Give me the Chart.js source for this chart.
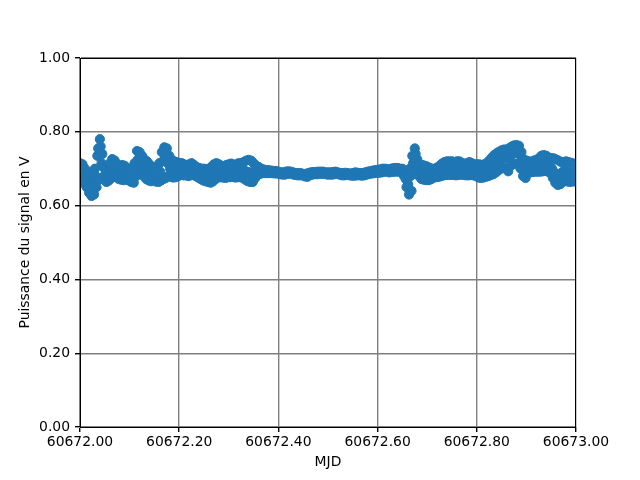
<!DOCTYPE html>
<html>
<head>
<meta charset="utf-8">
<script src="https://cdn.jsdelivr.net/npm/chart.js@4"></script>
<style>
html,body{margin:0;padding:0;background:#fff;}
#wrap{width:640px;height:480px;}
</style>
</head>
<body>
<div id="wrap"><canvas id="c" width="640" height="480"></canvas></div>
<script>
// MJD start and sampling step of each reading series (days)
const mjdStart = 60672.0;
const mjdStep = 0.005;
// Three interleaved reading series (V); series B and C are taken 1/3 and 2/3 of a step later
const readingsA = [
  0.715, 0.712, 0.700, 0.690, 0.685, 0.690, 0.700, 0.735, 0.780, 0.740,
  0.700, 0.705, 0.715, 0.726, 0.722, 0.712, 0.705, 0.710, 0.708, 0.700,
  0.700, 0.695, 0.715, 0.748, 0.745, 0.735, 0.725, 0.720, 0.712, 0.705,
  0.700, 0.705, 0.715, 0.745, 0.758, 0.755, 0.735, 0.724, 0.720, 0.718,
  0.715, 0.715, 0.712, 0.708, 0.712, 0.715, 0.710, 0.705, 0.702, 0.700,
  0.700, 0.698, 0.700, 0.705, 0.712, 0.715, 0.712, 0.708, 0.705, 0.710,
  0.712, 0.714, 0.710, 0.712, 0.715, 0.715, 0.718, 0.722, 0.724, 0.722,
  0.715, 0.708, 0.705, 0.700, 0.698, 0.696, 0.696, 0.695, 0.694, 0.694,
  0.692, 0.690, 0.690, 0.692, 0.693, 0.692, 0.690, 0.688, 0.688, 0.688,
  0.686, 0.686, 0.688, 0.690, 0.691, 0.691, 0.692, 0.692, 0.692, 0.690,
  0.690, 0.690, 0.691, 0.692, 0.690, 0.688, 0.688, 0.689, 0.688, 0.687,
  0.688, 0.690, 0.689, 0.688, 0.688, 0.690, 0.692, 0.693, 0.695, 0.696,
  0.697, 0.698, 0.700, 0.700, 0.698, 0.699, 0.701, 0.702, 0.702, 0.700,
  0.700, 0.695, 0.688, 0.700, 0.735, 0.755, 0.725, 0.712, 0.710, 0.708,
  0.706, 0.702, 0.700, 0.700, 0.703, 0.708, 0.714, 0.718, 0.720, 0.720,
  0.720, 0.718, 0.720, 0.720, 0.716, 0.712, 0.715, 0.718, 0.715, 0.712,
  0.712, 0.712, 0.710, 0.712, 0.715, 0.722, 0.730, 0.737, 0.742, 0.746,
  0.750, 0.752, 0.752, 0.755, 0.760, 0.763, 0.764, 0.762, 0.745, 0.725,
  0.722, 0.720, 0.718, 0.722, 0.724, 0.728, 0.735, 0.737, 0.735, 0.730,
  0.729, 0.728, 0.725, 0.722, 0.718, 0.718, 0.720, 0.718, 0.716, 0.714, 0.712
];
const readingsB = [
  0.690, 0.685, 0.670, 0.660, 0.650, 0.665, 0.680, 0.755, 0.760, 0.705,
  0.685, 0.680, 0.695, 0.700, 0.700, 0.690, 0.688, 0.690, 0.685, 0.683,
  0.680, 0.675, 0.700, 0.725, 0.720, 0.705, 0.695, 0.690, 0.690, 0.685,
  0.685, 0.680, 0.692, 0.720, 0.730, 0.715, 0.700, 0.695, 0.693, 0.690,
  0.700, 0.700, 0.698, 0.696, 0.698, 0.700, 0.697, 0.692, 0.688, 0.685,
  0.682, 0.680, 0.678, 0.682, 0.690, 0.695, 0.692, 0.688, 0.686, 0.690,
  0.692, 0.693, 0.690, 0.692, 0.694, 0.694, 0.695, 0.692, 0.690, 0.688,
  0.695, 0.693, 0.692, 0.692, 0.692, 0.692, 0.691, 0.691, 0.690, 0.690,
  0.688, 0.687, 0.687, 0.689, 0.690, 0.688, 0.686, 0.685, 0.685, 0.685,
  0.683, 0.682, 0.685, 0.687, 0.688, 0.688, 0.689, 0.689, 0.689, 0.687,
  0.687, 0.687, 0.688, 0.689, 0.687, 0.685, 0.685, 0.686, 0.685, 0.684,
  0.685, 0.686, 0.686, 0.685, 0.685, 0.687, 0.689, 0.690, 0.691, 0.692,
  0.693, 0.694, 0.696, 0.696, 0.694, 0.695, 0.697, 0.697, 0.697, 0.695,
  0.690, 0.672, 0.658, 0.680, 0.715, 0.740, 0.700, 0.690, 0.688, 0.686,
  0.686, 0.685, 0.688, 0.690, 0.692, 0.695, 0.698, 0.700, 0.702, 0.700,
  0.700, 0.698, 0.700, 0.700, 0.697, 0.695, 0.696, 0.698, 0.697, 0.695,
  0.694, 0.692, 0.690, 0.694, 0.698, 0.704, 0.710, 0.715, 0.720, 0.725,
  0.728, 0.730, 0.728, 0.735, 0.740, 0.742, 0.745, 0.738, 0.715, 0.700,
  0.705, 0.703, 0.702, 0.705, 0.706, 0.708, 0.712, 0.714, 0.712, 0.708,
  0.700, 0.690, 0.680, 0.685, 0.690, 0.695, 0.692, 0.690, 0.688, 0.690, 0.690
];
const readingsC = [
  0.662, 0.665, 0.650, 0.635, 0.626, 0.630, 0.650, 0.670, 0.715, 0.680,
  0.664, 0.668, 0.675, 0.678, 0.677, 0.672, 0.670, 0.669, 0.672, 0.668,
  0.664, 0.662, 0.680, 0.698, 0.695, 0.680, 0.672, 0.668, 0.666, 0.670,
  0.665, 0.664, 0.668, 0.672, 0.675, 0.680, 0.678, 0.676, 0.677, 0.680,
  0.684, 0.682, 0.682, 0.680, 0.682, 0.684, 0.680, 0.676, 0.672, 0.668,
  0.666, 0.664, 0.662, 0.666, 0.672, 0.676, 0.677, 0.676, 0.675, 0.677,
  0.677, 0.678, 0.676, 0.677, 0.677, 0.675, 0.670, 0.666, 0.664, 0.664,
  0.675, 0.683, 0.686, 0.688, 0.688, 0.688, 0.688, 0.688, 0.687, 0.687,
  0.685, 0.684, 0.684, 0.686, 0.687, 0.685, 0.683, 0.682, 0.682, 0.682,
  0.679, 0.678, 0.682, 0.684, 0.685, 0.685, 0.686, 0.686, 0.686, 0.684,
  0.684, 0.684, 0.685, 0.686, 0.684, 0.682, 0.682, 0.683, 0.682, 0.681,
  0.681, 0.682, 0.682, 0.681, 0.682, 0.684, 0.686, 0.687, 0.688, 0.689,
  0.689, 0.690, 0.692, 0.692, 0.690, 0.691, 0.692, 0.692, 0.692, 0.690,
  0.680, 0.650, 0.630, 0.640, 0.690, 0.715, 0.680, 0.672, 0.670, 0.669,
  0.669, 0.672, 0.676, 0.677, 0.678, 0.680, 0.682, 0.683, 0.683, 0.683,
  0.683, 0.682, 0.683, 0.684, 0.683, 0.682, 0.682, 0.683, 0.682, 0.680,
  0.676, 0.675, 0.676, 0.678, 0.680, 0.683, 0.685, 0.690, 0.695, 0.700,
  0.703, 0.700, 0.693, 0.708, 0.715, 0.712, 0.715, 0.700, 0.680, 0.675,
  0.690, 0.690, 0.691, 0.692, 0.692, 0.692, 0.693, 0.694, 0.692, 0.688,
  0.675, 0.662, 0.656, 0.658, 0.664, 0.668, 0.665, 0.664, 0.666, 0.665, 0.668
];
// Axis settings
const xMin = 60672.0, xMax = 60673.0, xStep = 0.2;
const yMin = 0.0, yMax = 1.0, yStep = 0.2;
const xTitle = 'MJD';
const yTitle = 'Puissance du signal en V';

const points = [];
[readingsA, readingsB, readingsC].forEach((arr, k) => {
  arr.forEach((v, i) => points.push({ x: mjdStart + (i + k / 3) * mjdStep, y: v }));
});
points.sort((a, b) => a.x - b.x);

const font = { family: 'DejaVu Sans', size: 13.9 };

const framePlugin = {
  id: 'frame',
  afterDatasetsDraw(chart) {
    const a = chart.chartArea, ctx = chart.ctx;
    ctx.save();
    ctx.strokeStyle = '#000';
    ctx.lineWidth = 1;
    ctx.strokeRect(Math.round(a.left) + 0.5, Math.round(a.top) + 0.5,
                   Math.round(a.right - a.left) - 1, Math.round(a.bottom - a.top));
    ctx.restore();
  }
};

new Chart(document.getElementById('c'), {
  type: 'scatter',
  data: {
    datasets: [{
      data: points,
      backgroundColor: '#1f77b4',
      borderColor: '#1f77b4',
      pointRadius: 4.6,
      pointBorderWidth: 1,
      clip: 0
    }]
  },
  options: {
    responsive: false,
    animation: false,
    devicePixelRatio: 1,
    layout: { padding: { left: 0, right: 64, top: 58, bottom: 0 } },
    plugins: { legend: { display: false }, tooltip: { enabled: false } },
    scales: {
      x: {
        type: 'linear',
        min: xMin, max: xMax,
        afterFit(s) { s.height = 53; },
        ticks: {
          stepSize: xStep, color: '#000', font: font, padding: 2,
          maxRotation: 0, autoSkip: false,
          callback: v => Number(v).toFixed(2)
        },
        grid: { color: '#808080', lineWidth: 1.4, tickColor: '#000', tickLength: 5 },
        border: { display: true, color: '#000', width: 1 },
        title: { display: true, text: xTitle, color: '#000', font: font, padding: { top: 0, bottom: 9 } }
      },
      y: {
        type: 'linear',
        min: yMin, max: yMax,
        afterFit(s) { s.width = 80; },
        ticks: {
          stepSize: yStep, color: '#000', font: font, padding: 5,
          callback: v => Number(v).toFixed(2)
        },
        grid: { color: '#808080', lineWidth: 1.4, tickColor: '#000', tickLength: 5 },
        border: { display: true, color: '#000', width: 1 },
        title: { display: true, text: yTitle, color: '#000', font: font, padding: { top: 17, bottom: 0 } }
      }
    }
  },
  plugins: [framePlugin]
});
</script>
</body>
</html>
